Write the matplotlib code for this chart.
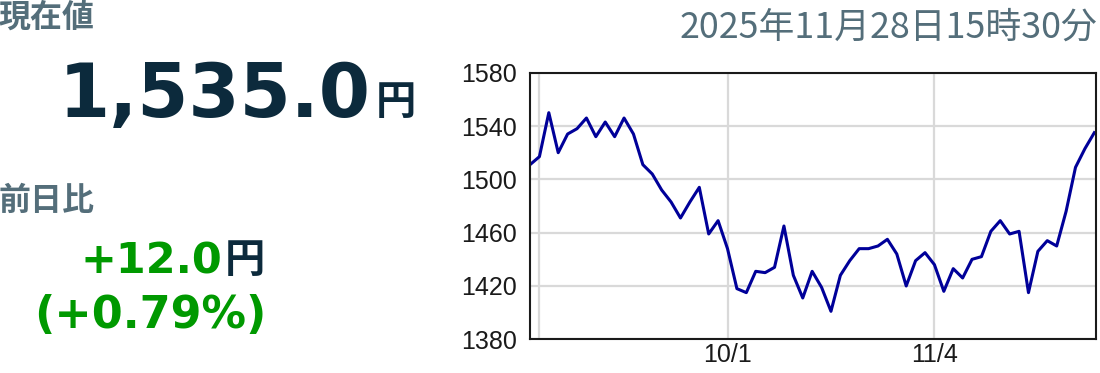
import matplotlib.pyplot as plt
import numpy as np

# closing prices (61 trading days)
prices = [1511, 1517, 1550, 1520, 1534, 1538, 1546, 1532, 1543, 1532,
          1546, 1534, 1511, 1504, 1492, 1483, 1471, 1483, 1494, 1459,
          1469, 1448, 1418, 1415, 1431, 1430, 1434, 1465, 1428, 1411,
          1431, 1419, 1401, 1428, 1439, 1448, 1448, 1450, 1455, 1444,
          1420, 1439, 1445, 1436, 1416, 1433, 1426, 1440, 1442, 1461,
          1469, 1459, 1461, 1415, 1446, 1454, 1450, 1476, 1509, 1523,
          1535]
tick_idx = [1, 21, 43]
tick_labels = ['', '10/1', '11/4']
y_ticks = [1380, 1420, 1460, 1500, 1540, 1580]

price_text = '1,535.0'
change_text = '+12.0'
pct_text = '(+0.79%)'
stamp_text = '2025年11月28日15時30分'

W, H = 1100, 373
NAVY = '#0c2a3c'
GREEN = '#009900'
GREYBLUE = '#546e7a'
CJK = ['Noto Sans CJK JP', 'DejaVu Sans']
LAT = ['DejaVu Sans', 'Noto Sans CJK JP']

fig = plt.figure(figsize=(W / 100, H / 100), dpi=100)

def px(x, y):
    return x / W, 1 - y / H

# left panel text
fig.text(*px(-1, 18), '現在値', family=CJK, fontsize=23, fontweight='bold',
         color=GREYBLUE, va='center', ha='left')
fig.text(*px(371, 97), price_text, family=LAT, fontsize=53, fontweight='bold',
         color=NAVY, va='center', ha='right')
fig.text(*px(376, 103), '円', family=CJK, fontsize=29, fontweight='bold',
         color=NAVY, va='center', ha='left')
fig.text(*px(-1, 201), '前日比', family=CJK, fontsize=23, fontweight='bold',
         color=GREYBLUE, va='center', ha='left')
fig.text(*px(222, 261), change_text, family=LAT, fontsize=31, fontweight='bold',
         color=GREEN, va='center', ha='right')
fig.text(*px(225, 261), '円', family=CJK, fontsize=29, fontweight='bold',
         color=NAVY, va='center', ha='left')
fig.text(*px(266, 315), pct_text, family=LAT, fontsize=32, fontweight='bold',
         color=GREEN, va='center', ha='right')

# timestamp
fig.text(*px(1097, 28), stamp_text, family=CJK, fontsize=25.8,
         color=GREYBLUE, va='center', ha='right')

# chart
ax = fig.add_axes([530 / W, (H - 339.3) / H, 566 / W, 266.6 / H])
x = np.arange(len(prices))
ax.plot(x, prices, color='#000099', linewidth=2.2)
ax.set_xlim(0, len(prices) - 0.82)
ax.set_ylim(y_ticks[0], y_ticks[-1])
ax.set_yticks(y_ticks)
ax.set_xticks(tick_idx)
ax.set_xticklabels(tick_labels)
ax.grid(True, color='#d9d9d9', linewidth=1.6)
ax.set_axisbelow(True)
ax.tick_params(length=0, labelsize=18, colors='#1a1a1a')
ax.tick_params(axis='y', pad=9.5)
ax.tick_params(axis='x', pad=3)
for lab in ax.get_xticklabels() + ax.get_yticklabels():
    lab.set_family(['Liberation Sans', 'DejaVu Sans'])
for s in ax.spines.values():
    s.set_color('#1a1a1a')
    s.set_linewidth(1.5)

fig.savefig('out.png', dpi=100)
